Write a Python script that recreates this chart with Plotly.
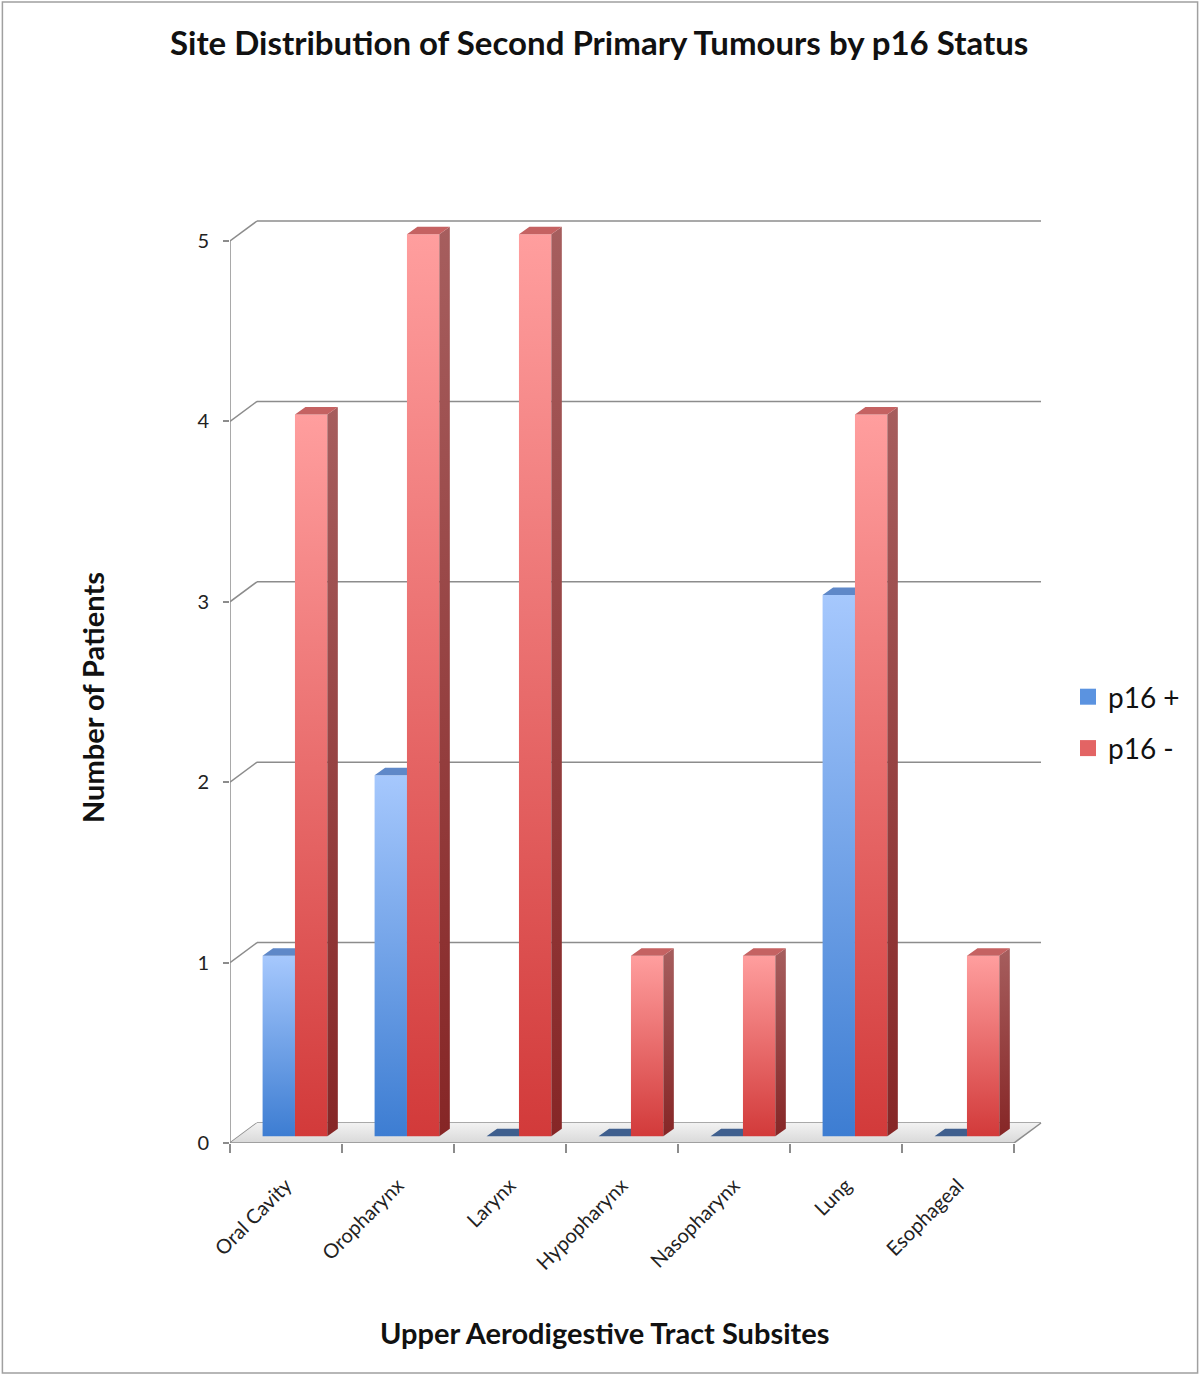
import plotly.graph_objects as go

# ---------------- data ----------------
categories = ["Oral Cavity", "Oropharynx", "Larynx", "Hypopharynx",
              "Nasopharynx", "Lung", "Esophageal"]
p16_pos = [1, 2, 0, 0, 0, 3, 0]
p16_neg = [4, 5, 5, 1, 1, 4, 1]
series_names = ["p16 +", "p16 -"]
y_ticks = [0, 1, 2, 3, 4, 5]

# ---------------- geometry (pseudo 3-D) ----------------
W_PX, H_PX = 1200, 1375
PX_X = 112.0      # pixels per category
PX_Y = 180.4      # pixels per patient
DX = 27 / PX_X    # depth offset of back wall (x units)
DY = 20 / PX_Y    # depth offset of back wall (y units)
SHIFT = 0.08      # bars sit a little back
BASE = 0.038
BW = 0.289        # bar width
SX = 10.5 / PX_X  # bar side depth
SY = 7.5 / PX_Y

x_left_px, x_right_px = 230, 1046
y_bot_px, y_top_px = 1143, 215
x_range = [-0.5, -0.5 + (x_right_px - x_left_px) / PX_X]
y_range = [0, (y_bot_px - y_top_px) / PX_Y]

styles = {
    "p16 +": dict(front=("#3d7dd2", "#a6c8fd"), side=("#2f5f9f", "#6d8fc4"),
                  top="#5f88c8", zero="#3f5f8e", legend="#5b93e0"),
    "p16 -": dict(front=("#d23a3a", "#ff9e9e"), side=("#862626", "#a65e5e"),
                  top="#c56262", zero="#a84040", legend="#e36464"),
}

fig = go.Figure()

# floor
fx = [-0.5, 6.5, 6.5 + DX, -0.5 + DX, -0.5]
fy = [0, 0, DY, DY, 0]
fig.add_trace(go.Scatter(x=fx, y=fy, fill="toself", mode="lines",
                         fillgradient=dict(type="vertical",
                                           colorscale=[[0, "#d9d9d9"], [1, "#f2f2f2"]]),
                         line=dict(width=0, color="rgba(0,0,0,0)"),
                         hoverinfo="skip", showlegend=False))

line_col = "#8c8c8c"
shapes = []
# back gridlines + diagonals
for v in y_ticks:
    shapes.append(dict(type="line", xref="x", yref="y", x0=-0.5 + DX, x1=6.5 + DX,
                       y0=v + DY, y1=v + DY, line=dict(color=line_col, width=1.5), layer="below"))
    shapes.append(dict(type="line", xref="x", yref="y", x0=-0.5, x1=-0.5 + DX,
                       y0=v, y1=v + DY, line=dict(color=line_col, width=1.5), layer="below"))
# front axis lines
shapes.append(dict(type="line", xref="x", yref="y", x0=-0.5, x1=-0.5, y0=0, y1=5,
                   line=dict(color=line_col, width=1.5)))
shapes.append(dict(type="line", xref="x", yref="y", x0=-0.5, x1=6.5, y0=0, y1=0,
                   line=dict(color=line_col, width=1.5)))
shapes.append(dict(type="line", xref="x", yref="y", x0=6.5, x1=6.5 + DX, y0=0, y1=DY,
                   line=dict(color=line_col, width=1.5)))

# bars
for s_idx, (name, vals) in enumerate(zip(series_names, [p16_pos, p16_neg])):
    st = styles[name]
    tops_x, tops_y = [], []
    zero_x, zero_y = [], []
    for i, v in enumerate(vals):
        x0 = i + SHIFT + (s_idx - 1) * BW
        x1 = x0 + BW
        y0 = BASE
        y1 = BASE + v
        if v > 0:
            fig.add_trace(go.Scatter(
                x=[x0, x1, x1, x0, x0], y=[y0, y0, y1, y1, y0],
                fill="toself", mode="lines", line=dict(width=0, color="rgba(0,0,0,0)"),
                fillgradient=dict(type="vertical",
                                  colorscale=[[0, st["front"][0]], [1, st["front"][1]]]),
                hoverinfo="skip", showlegend=False))
            fig.add_trace(go.Scatter(
                x=[x1, x1 + SX, x1 + SX, x1, x1], y=[y0, y0 + SY, y1 + SY, y1, y0],
                fill="toself", mode="lines", line=dict(width=0, color="rgba(0,0,0,0)"),
                fillgradient=dict(type="vertical",
                                  colorscale=[[0, st["side"][0]], [1, st["side"][1]]]),
                hoverinfo="skip", showlegend=False))
            tops_x += [x0, x1, x1 + SX, x0 + SX, x0, None]
            tops_y += [y1, y1, y1 + SY, y1 + SY, y1, None]
        else:
            zero_x += [x0, x1, x1 + SX, x0 + SX, x0, None]
            zero_y += [y1, y1, y1 + SY, y1 + SY, y1, None]
    if tops_x:
        fig.add_trace(go.Scatter(x=tops_x, y=tops_y, fill="toself", mode="lines",
                                 fillcolor=st["top"], line=dict(width=0, color="rgba(0,0,0,0)"),
                                 hoverinfo="skip", showlegend=False))
    if zero_x:
        fig.add_trace(go.Scatter(x=zero_x, y=zero_y, fill="toself", mode="lines",
                                 fillcolor=st["zero"], line=dict(width=0, color="rgba(0,0,0,0)"),
                                 hoverinfo="skip", showlegend=False))

# legend entries
for name in series_names:
    fig.add_trace(go.Scatter(x=[None], y=[None], name=name, legendgroup=name, mode="markers",
                             marker=dict(color=styles[name]["legend"], symbol="square", size=16)))

# border
shapes.append(dict(type="rect", xref="paper", yref="paper", x0=0.002, x1=0.998,
                   y0=0.0015, y1=0.9985, line=dict(color="#a0a0a0", width=1.5)))

FONT = "Lato, 'Open Sans', sans-serif"

fig.update_layout(
    width=W_PX, height=H_PX,
    margin=dict(l=0, r=0, t=0, b=0, autoexpand=False),
    paper_bgcolor="white", plot_bgcolor="rgba(0,0,0,0)",
    font=dict(family=FONT, color="#111"),
    shapes=shapes,
    showlegend=True,
    legend=dict(x=1068 / W_PX, y=1 - 672 / H_PX, xanchor="left", yanchor="top",
                font=dict(size=28, family=FONT, color="#111"), tracegroupgap=12,
                itemwidth=30, bgcolor="rgba(0,0,0,0)"),
    xaxis=dict(domain=[x_left_px / W_PX, x_right_px / W_PX], range=x_range,
               automargin=False,
               tickmode="array", tickvals=list(range(len(categories))), ticktext=categories,
               tickangle=-45, ticks="outside", ticklen=22, tickcolor="rgba(0,0,0,0)",
               tickfont=dict(size=20, family=FONT, color="#222"),
               minor=dict(tickvals=[i - 0.5 for i in range(len(categories) + 1)],
                          ticks="outside", ticklen=9, tickcolor=line_col, tickwidth=1.5),
               showline=False, showgrid=False, zeroline=False, fixedrange=True),
    yaxis=dict(domain=[1 - y_bot_px / H_PX, 1 - y_top_px / H_PX], range=y_range,
               automargin=False,
               tickmode="array", tickvals=y_ticks, ticks="outside", ticklen=6,
               tickcolor=line_col, tickwidth=1.5, ticklabelstandoff=10,
               tickfont=dict(size=20, family=FONT, color="#222"),
               showline=False, showgrid=False, zeroline=False, fixedrange=True),
    annotations=[
        dict(text="<b>Site Distribution of Second Primary Tumours by p16 Status</b>",
             x=599 / W_PX, y=1 - 42 / H_PX, xref="paper", yref="paper",
             xanchor="center", yanchor="middle", showarrow=False,
             font=dict(size=33, family=FONT, color="#111")),
        dict(text="<b>Number of Patients</b>", x=92 / W_PX, y=1 - 698 / H_PX,
             xref="paper", yref="paper", xanchor="center", yanchor="middle",
             textangle=-90, showarrow=False, font=dict(size=29, family=FONT, color="#111")),
        dict(text="<b>Upper Aerodigestive Tract Subsites</b>", x=604 / W_PX,
             y=1 - 1332 / H_PX, xref="paper", yref="paper", xanchor="center",
             yanchor="middle", showarrow=False, font=dict(size=29, family=FONT, color="#111")),
    ],
)

fig.write_html("out.html", config={"displayModeBar": False},
               post_script="document.body.style.margin='0';")
